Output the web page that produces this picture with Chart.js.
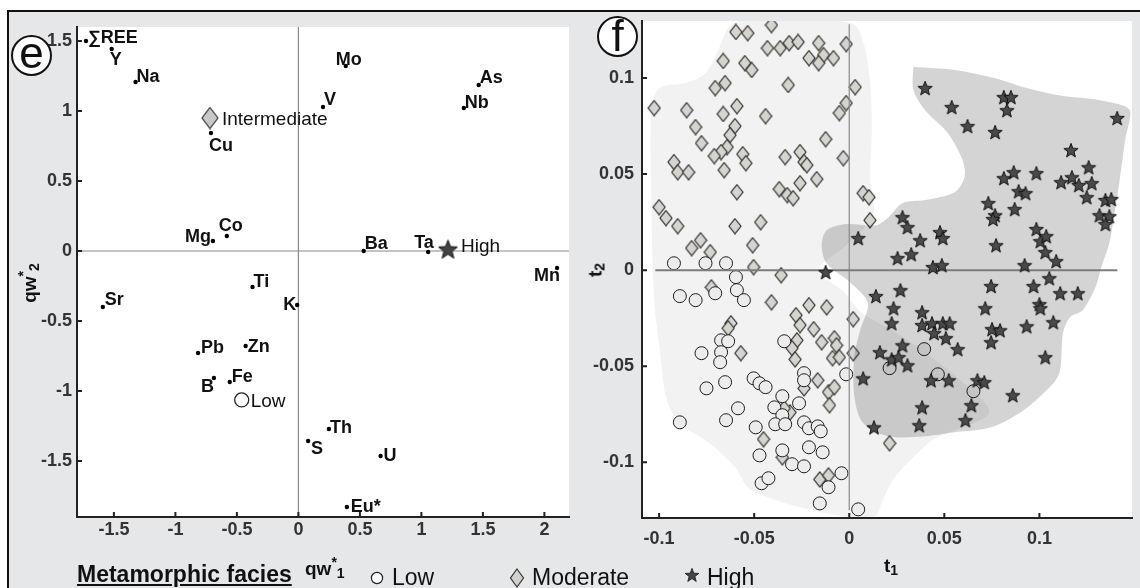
<!DOCTYPE html>
<html>
<head>
<meta charset="utf-8">
<script src="https://cdn.jsdelivr.net/npm/chart.js@4.4.1/dist/chart.umd.min.js"></script>
<style>
  html, body { margin: 0; padding: 0; background: #fff; }
  body { width: 1140px; height: 588px; position: relative; overflow: hidden; font-family: "Liberation Sans", Arial, sans-serif; }
  #frame { position: absolute; left: 7px; top: 10px; right: 0; bottom: 0; background: #e6e7e9; border-top: 2px solid #111; border-left: 2px solid #111; }
  canvas { position: absolute; top: 0; }
  .abs { position: absolute; white-space: nowrap; line-height: 1; color: #111; }
  .axt { font-weight: bold; font-size: 19px; }
  .sup { font-size: 14px; position: relative; top: -8px; }
  .sub { font-size: 14px; position: relative; top: 3px; }
  .rot { transform: translate(-50%, -50%) rotate(-90deg); }
  .panel { position: absolute; width: 37px; height: 37px; border: 2px solid #111; border-radius: 50%; background: #fff;
           display: flex; align-items: center; justify-content: center; font-size: 44px; line-height: 1; color: #111; }
  .leg { font-size: 23px; }
</style>
</head>
<body>
<div id="frame"></div>
<canvas id="chartE" width="580" height="588" style="left:0"></canvas>
<canvas id="chartF" width="560" height="588" style="left:580px"></canvas>

<div class="panel" style="left:11px; top:35px;"><span style="position:relative; top:-3px">e</span></div>
<div class="panel" style="left:597px; top:16px;"><span style="position:relative; top:-1px">f</span></div>

<div class="abs axt" style="left:305px; top:559px;">qw<span class="sup">*</span><span class="sub">1</span></div>
<div class="abs axt rot" style="left:29px; top:283px;">qw<span class="sup">*</span><span class="sub">2</span></div>
<div class="abs axt" style="left:884px; top:556px;">t<span class="sub">1</span></div>
<div class="abs axt rot" style="left:595px; top:270px;">t<span class="sub">2</span></div>

<div class="abs leg" style="left:77px; top:563px; font-weight:bold; text-decoration:underline;">Metamorphic facies</div>
<svg class="abs" style="left:370px; top:571px;" width="14" height="14"><circle cx="7" cy="7" r="5.6" fill="#fff" stroke="#222" stroke-width="1.2"/></svg>
<div class="abs leg" style="left:392px; top:566px;">Low</div>
<svg class="abs" style="left:509px; top:568px;" width="16" height="20"><polygon points="8,1 14.5,10 8,19 1.5,10" fill="#d2d1cd" stroke="#333" stroke-width="1.2"/></svg>
<div class="abs leg" style="left:532px; top:566px;">Moderate</div>
<svg class="abs" style="left:684px; top:567px;" width="16" height="16"><polygon id="legStar" fill="#444" stroke="#111" stroke-width="0.8"/></svg>
<div class="abs leg" style="left:707px; top:566px;">High</div>

<script>
// ---- panel e : loadings ----
var elemNames = ['\u2211REE', 'Y', 'Na', 'Mo', 'V', 'As', 'Nb', 'Cu', 'Mg', 'Co', 'Ba', 'Ta', 'Mn',
                 'Ti', 'Sr', 'K', 'Pb', 'Zn', 'B', 'Fe', 'Th', 'S', 'U', 'Eu*'];
var elemX = [-1.727, -1.518, -1.324, 0.385, 0.200, 1.466, 1.345, -0.711, -0.695, -0.582, 0.531, 1.055, 2.103,
             -0.373, -1.590, -0.010, -0.816, -0.429, -0.687, -0.558, 0.248, 0.079, 0.668, 0.394];
var elemY = [1.500, 1.443, 1.207, 1.321, 1.029, 1.186, 1.021, 0.843, 0.071, 0.107, 0.000, -0.007, -0.121,
             -0.257, -0.400, -0.386, -0.729, -0.679, -0.907, -0.936, -1.271, -1.357, -1.464, -1.829];
var faciesNames = ['Intermediate', 'Low', 'High'];
var faciesX = [-0.719, -0.461, 1.216];
var faciesY = [0.950, -1.064, 0.014];
var eXTicks = [-1.5, -1, -0.5, 0, 0.5, 1, 1.5, 2];
var eYTicks = [-1.5, -1, -0.5, 0, 0.5, 1, 1.5];

// ---- panel f : scores [t1, t2] ----
var lowPts = [
  [-0.0922,0.0036],[-0.0756,0.0036],[-0.0648,0.0036],[-0.0596,-0.0036],[-0.0891,-0.0135],[-0.0808,-0.0156],
  [-0.0705,-0.0120],[-0.0591,-0.0104],[-0.0554,-0.0156],[-0.0674,-0.0365],[-0.0637,-0.0370],[-0.0674,-0.0427],
  [-0.0679,-0.0479],[-0.0777,-0.0432],[-0.0653,-0.0583],[-0.0751,-0.0615],[-0.0503,-0.0563],[-0.0472,-0.0589],
  [-0.0440,-0.0609],[-0.0585,-0.0719],[-0.0648,-0.0781],[-0.0891,-0.0792],[-0.0492,-0.0818],[-0.0472,-0.0964],
  [-0.0461,-0.1109],[-0.0425,-0.1083],[-0.0342,-0.0370],[-0.0238,-0.0536],[-0.0238,-0.0573],[-0.0016,-0.0542],
  [-0.0352,-0.0656],[-0.0394,-0.0714],[-0.0352,-0.0755],[-0.0389,-0.0802],[-0.0337,-0.0802],[-0.0264,-0.0693],
  [-0.0238,-0.0792],[-0.0212,-0.0823],[-0.0166,-0.0813],[-0.0150,-0.0839],[-0.0352,-0.0938],[-0.0301,-0.1010],
  [-0.0238,-0.1021],[-0.0212,-0.0922],[-0.0140,-0.0948],[-0.0041,-0.1057],[-0.0109,-0.1130],[-0.0155,-0.1214],
  [0.0047,-0.1245],[0.0394,-0.0411],[0.0212,-0.0510],[0.0466,-0.0542],[0.0653,-0.0630]
];
var modPts = [
  [-0.1026,0.0844],[-0.0855,0.0833],[-0.0808,0.0745],[-0.0777,0.0661],[-0.0922,0.0563],[-0.0902,0.0510],
  [-0.0845,0.0510],[-0.1000,0.0328],[-0.0964,0.0271],[-0.0902,0.0229],[-0.0829,0.0115],[-0.0782,0.0156],
  [-0.0731,0.0094],[-0.0663,0.1089],[-0.0705,0.0948],[-0.0653,0.0974],[-0.0663,0.0813],[-0.0591,0.0854],
  [-0.0601,0.0750],[-0.0627,0.0703],[-0.0642,0.0641],[-0.0674,0.0615],[-0.0710,0.0594],[-0.0658,0.0521],
  [-0.0560,0.0604],[-0.0544,0.0557],[-0.0591,0.0406],[-0.0601,0.0229],[-0.0466,0.0250],[-0.0508,0.0130],
  [-0.0503,0.0016],[-0.0358,-0.0026],[-0.0596,0.1240],[-0.0534,0.1234],[-0.0409,0.1276],[-0.0430,0.1156],
  [-0.0363,0.1156],[-0.0316,0.1182],[-0.0269,0.1188],[-0.0212,0.1104],[-0.0161,0.1182],[-0.0135,0.1120],
  [-0.0161,0.1078],[-0.0083,0.1104],[-0.0016,0.1177],[-0.0549,0.1078],[-0.0513,0.1042],[-0.0321,0.0964],
  [-0.0440,0.0802],[-0.0337,0.0589],[-0.0259,0.0615],[-0.0238,0.0563],[-0.0223,0.0547],[-0.0171,0.0474],
  [-0.0124,0.0682],[-0.0031,0.0583],[-0.0052,0.0818],[-0.0016,0.0870],[0.0031,0.0953],[-0.0368,0.0422],
  [-0.0326,0.0391],[-0.0295,0.0375],[-0.0259,0.0453],[0.0073,0.0401],[0.0104,0.0380],[0.0109,0.0260],
  [-0.0725,-0.0089],[-0.0409,-0.0167],[-0.0622,-0.0276],[-0.0637,-0.0302],[-0.0570,-0.0432],[-0.0280,-0.0234],
  [-0.0212,-0.0182],[-0.0119,-0.0193],[-0.0259,-0.0286],[-0.0187,-0.0307],[-0.0275,-0.0365],[-0.0301,-0.0406],
  [-0.0285,-0.0464],[-0.0145,-0.0375],[-0.0078,-0.0354],[-0.0067,-0.0391],[-0.0088,-0.0458],[-0.0052,-0.0453],
  [0.0021,-0.0255],[0.0021,-0.0432],[-0.0166,-0.0573],[-0.0238,-0.0615],[-0.0109,-0.0635],[-0.0078,-0.0609],
  [-0.0104,-0.0703],[-0.0311,-0.0740],[-0.0342,-0.0719],[-0.0451,-0.0880],[-0.0352,-0.0974],[-0.0155,-0.1089],
  [-0.0109,-0.1068],[0.0212,-0.0901]
];
var highPts = [
  [0.0399,0.0948],[0.0539,0.0849],[0.0622,0.0750],[0.0767,0.0719],[0.0813,0.0901],[0.0850,0.0901],
  [0.0829,0.0833],[0.1409,0.0792],[0.1166,0.0625],[0.1259,0.0536],[0.0865,0.0510],[0.0813,0.0479],
  [0.0984,0.0505],[0.1114,0.0458],[0.1171,0.0484],[0.1207,0.0443],[0.1275,0.0453],[0.1249,0.0380],
  [0.0891,0.0411],[0.0927,0.0401],[0.0731,0.0349],[0.0767,0.0286],[0.0756,0.0266],[0.0870,0.0318],
  [0.1347,0.0365],[0.1378,0.0370],[0.1316,0.0286],[0.1368,0.0281],[0.1347,0.0240],[0.0280,0.0276],
  [0.0306,0.0224],[0.0373,0.0156],[0.0477,0.0198],[0.0492,0.0167],[0.0254,0.0063],[0.0326,0.0083],
  [0.0772,0.0130],[0.0984,0.0214],[0.1005,0.0151],[0.1036,0.0177],[0.1031,0.0094],[0.1088,0.0047],
  [0.0440,0.0016],[0.0487,0.0026],[0.0922,0.0026],[0.0269,-0.0104],[0.0746,-0.0083],[0.0969,-0.0083],
  [0.1052,-0.0042],[0.1109,-0.0120],[0.1202,-0.0120],[0.0140,-0.0135],[0.0047,0.0167],[-0.0124,-0.0010],
  [0.0233,-0.0198],[0.0223,-0.0276],[0.0383,-0.0219],[0.0383,-0.0286],[0.0435,-0.0276],[0.0492,-0.0276],
  [0.0528,-0.0276],[0.0446,-0.0328],[0.0508,-0.0354],[0.0570,-0.0411],[0.0715,-0.0198],[0.0751,-0.0307],
  [0.0793,-0.0313],[0.0746,-0.0375],[0.0933,-0.0292],[0.1073,-0.0271],[0.1000,-0.0177],[0.1005,-0.0198],
  [0.1031,-0.0453],[0.0860,-0.0651],[0.0674,-0.0573],[0.0710,-0.0583],[0.0642,-0.0703],[0.0611,-0.0781],
  [0.0430,-0.0573],[0.0523,-0.0573],[0.0383,-0.0714],[0.0368,-0.0807],[0.0130,-0.0818],[0.0280,-0.0391],
  [0.0161,-0.0427],[0.0223,-0.0464],[0.0259,-0.0453],[0.0306,-0.0495],[0.0073,-0.0563]
];
// outlines of the shaded facies fields, in t1/t2 units
var lowModField = [
  [-0.0585,0.1297],[-0.0275,0.1302],[0.0021,0.1281],[0.0078,0.1172],[0.0109,0.0990],[0.0119,0.0729],
  [0.0109,0.0469],[0.0124,0.0286],[-0.0016,0.0130],[-0.0161,0.0],[-0.0026,-0.0115],[0.0062,-0.0219],
  [0.0269,-0.0339],[0.0554,-0.0547],[0.0736,-0.0740],[0.0503,-0.0854],[0.0435,-0.0885],[0.0321,-0.0990],
  [0.0228,-0.1094],[0.0166,-0.1224],[0.0140,-0.1281],[0.0,-0.1286],[-0.0259,-0.1234],[-0.0430,-0.1182],
  [-0.0534,-0.1130],[-0.0601,-0.1026],[-0.0741,-0.0896],[-0.0896,-0.0797],[-0.0964,-0.0661],[-0.0990,-0.0469],
  [-0.1026,-0.0156],[-0.1041,0.0365],[-0.1041,0.0833],[-0.1000,0.0948],[-0.0860,0.0974],[-0.0756,0.1026],
  [-0.0689,0.1146],[-0.0637,0.1260],[-0.0585,0.1297]
];
var highField = [
  [0.0337,0.1057],[0.0554,0.1042],[0.0762,0.1000],[0.0933,0.0948],[0.1124,0.0906],[0.1316,0.0885],
  [0.1477,0.0833],[0.1451,0.0677],[0.1420,0.0453],[0.1389,0.0260],[0.1368,0.0141],[0.1321,0.0],
  [0.1295,-0.0089],[0.1228,-0.0208],[0.1161,-0.0245],[0.1124,-0.0328],[0.1109,-0.0521],[0.1073,-0.0589],
  [0.0917,-0.0729],[0.0746,-0.0818],[0.0554,-0.0844],[0.0399,-0.0865],[0.0244,-0.0870],[0.0140,-0.0844],
  [0.0062,-0.0781],[0.0026,-0.0651],[0.0026,-0.0453],[0.0057,-0.0313],[0.0098,-0.0172],[0.0010,-0.0068],
  [-0.0119,0.0036],[-0.0145,0.0130],[-0.0119,0.0208],[-0.0016,0.0240],[0.0140,0.0234],[0.0207,0.0276],
  [0.0280,0.0349],[0.0399,0.0365],[0.0554,0.0406],[0.0606,0.0484],[0.0596,0.0573],[0.0518,0.0714],
  [0.0399,0.0833],[0.0337,0.0938],[0.0337,0.1057]
];
var fXTicks = [-0.1, -0.05, 0, 0.05, 0.1];
var fYTicks = [-0.1, -0.05, 0, 0.05, 0.1];

// label placement next to each loading point: [dx, dy, align]
var labelOffsets = [
  [2,-3,'left'], [-2,11,'left'], [1,-5,'left'], [-10,-6,'left'], [1,-7,'left'], [1,-7,'left'], [1,-5,'left'],
  [-2,13,'left'], [-2,-4,'right'], [-8,-10,'left'], [1,-7,'left'], [-14,-9,'left'], [3,8,'right'],
  [1,-5,'left'], [2,-7,'left'], [-1,0,'right'], [3,-5,'left'], [2,1,'left'], [0,9,'right'], [2,-5,'left'],
  [1,-1,'left'], [3,8,'left'], [3,0,'left'], [4,0,'left']
];
var faciesOffsets = [[12,2], [9,2], [13,-2]];

Chart.defaults.font.family = '"Liberation Sans", Arial, sans-serif';

function starImage(outer, fill, stroke) {
  var size = Math.ceil(outer * 2 + 3);
  var c = document.createElement('canvas');
  c.width = size; c.height = size;
  var g = c.getContext('2d');
  var cx = size / 2, cy = size / 2 + outer * 0.1, inner = outer * 0.42;
  g.beginPath();
  for (var k = 0; k < 10; k++) {
    var r = k % 2 ? inner : outer;
    var a = -Math.PI / 2 + k * Math.PI / 5;
    g.lineTo(cx + r * Math.cos(a), cy + r * Math.sin(a));
  }
  g.closePath();
  g.fillStyle = fill; g.fill();
  g.strokeStyle = stroke; g.lineWidth = 1; g.stroke();
  return c;
}
function diamondImage(w, h, fill, stroke) {
  var c = document.createElement('canvas');
  c.width = w + 2; c.height = h + 2;
  var g = c.getContext('2d');
  var cx = c.width / 2, cy = c.height / 2;
  g.beginPath();
  g.moveTo(cx, 1); g.lineTo(c.width - 1, cy); g.lineTo(cx, c.height - 1); g.lineTo(1, cy);
  g.closePath();
  g.fillStyle = fill; g.fill();
  g.strokeStyle = stroke; g.lineWidth = 1.2; g.stroke();
  return c;
}
// legend star
(function () {
  var p = [];
  for (var k = 0; k < 10; k++) {
    var r = k % 2 ? 3 : 7.2;
    var a = -Math.PI / 2 + k * Math.PI / 5;
    p.push((8 + r * Math.cos(a)).toFixed(2) + ',' + (8.6 + r * Math.sin(a)).toFixed(2));
  }
  document.getElementById('legStar').setAttribute('points', p.join(' '));
})();

function toXY(arr) { return arr.map(function (p) { return { x: p[0], y: p[1] }; }); }

var plotBg = {
  id: 'plotBg',
  beforeDraw: function (chart) {
    var a = chart.chartArea, ctx = chart.ctx;
    ctx.save();
    ctx.fillStyle = '#fff';
    ctx.fillRect(a.left, a.top, a.right - a.left, a.bottom - a.top);
    ctx.restore();
  }
};
var inwardTicks = {
  id: 'inwardTicks',
  afterDraw: function (chart) {
    var a = chart.chartArea, ctx = chart.ctx, sx = chart.scales.x, sy = chart.scales.y;
    ctx.save();
    ctx.strokeStyle = '#222';
    ctx.lineWidth = 2;
    ctx.beginPath();
    sx.ticks.forEach(function (t) {
      var p = sx.getPixelForValue(t.value);
      ctx.moveTo(p, a.bottom); ctx.lineTo(p, a.bottom - 5);
    });
    sy.ticks.forEach(function (t) {
      var p = sy.getPixelForValue(t.value);
      ctx.moveTo(a.left, p); ctx.lineTo(a.left + 5, p);
    });
    ctx.stroke();
    ctx.restore();
  }
};
var pointLabels = {
  id: 'pointLabels',
  afterDatasetsDraw: function (chart) {
    var ctx = chart.ctx;
    ctx.save();
    ctx.fillStyle = '#111';
    ctx.textBaseline = 'middle';
    ctx.font = 'bold 18px "Liberation Sans", Arial, sans-serif';
    chart.getDatasetMeta(0).data.forEach(function (pt, i) {
      var o = labelOffsets[i];
      ctx.textAlign = o[2];
      ctx.fillText(elemNames[i], pt.x + o[0], pt.y + o[1]);
    });
    ctx.font = '19px "Liberation Sans", Arial, sans-serif';
    ctx.textAlign = 'left';
    for (var k = 0; k < 3; k++) {
      var pt = chart.getDatasetMeta(k + 1).data[0];
      ctx.fillText(faciesNames[k], pt.x + faciesOffsets[k][0], pt.y + faciesOffsets[k][1]);
    }
    ctx.restore();
  }
};

function axis(min, max, ticks, fit, pad, isX) {
  return {
    type: 'linear', min: min, max: max,
    afterFit: function (s) { if (isX) s.height = fit; else s.width = fit; },
    afterBuildTicks: function (s) { s.ticks = ticks.map(function (v) { return { value: v }; }); },
    grid: { display: false, drawTicks: false },
    border: { display: true, color: '#222', width: 2 },
    ticks: { color: '#333', font: { size: 18, weight: 'bold' }, padding: pad, autoSkip: false, maxRotation: 0,
             callback: function (v) { return String(v); } }
  };
}
var baseOpts = {
  responsive: false, animation: false, events: [],
  plugins: { legend: { display: false }, tooltip: { enabled: false } }
};

new Chart(document.getElementById('chartE'), {
  type: 'scatter',
  data: {
    datasets: [
      { data: elemX.map(function (x, i) { return { x: x, y: elemY[i] }; }),
        pointRadius: 2.2, backgroundColor: '#000', borderWidth: 0, order: 1 },
      { data: [{ x: faciesX[0], y: faciesY[0] }], pointStyle: diamondImage(16, 21, '#c8c8c8', '#333'), pointRadius: 8, order: 2 },
      { data: [{ x: faciesX[1], y: faciesY[1] }], pointStyle: 'circle', pointRadius: 7, backgroundColor: '#fff',
        borderColor: '#222', borderWidth: 1.3, order: 2 },
      { data: [{ x: faciesX[2], y: faciesY[2] }], pointStyle: starImage(10, '#444', '#111'), pointRadius: 10, order: 2 },
      { data: [{ x: -1.8, y: 0 }, { x: 2.2, y: 0 }], showLine: true, pointRadius: 0, borderColor: '#8a8a8a', borderWidth: 1.2, order: 9 },
      { data: [{ x: 0, y: -1.9 }, { x: 0, y: 1.6 }], showLine: true, pointRadius: 0, borderColor: '#8a8a8a', borderWidth: 1.2, order: 9 }
    ]
  },
  options: Object.assign({}, baseOpts, {
    layout: { padding: { top: 27, right: 7, left: 0, bottom: 0 } },
    scales: { x: axis(-1.8, 2.2, eXTicks, 71, 2, true), y: axis(-1.9, 1.6, eYTicks, 77, 5, false) }
  }),
  plugins: [plotBg, inwardTicks, pointLabels]
});

new Chart(document.getElementById('chartF'), {
  type: 'scatter',
  data: {
    datasets: [
      { data: toXY(lowModField), showLine: true, fill: 'shape', tension: 0.3, pointRadius: 0, borderWidth: 0,
        borderColor: 'transparent', backgroundColor: 'rgba(0,0,0,0.05)', order: 10 },
      { data: toXY(modPts), pointStyle: diamondImage(12, 15, '#d6d4cf', '#2b2b2b'), pointRadius: 7, order: 8 },
      { data: toXY(lowPts), pointStyle: 'circle', pointRadius: 6.5, backgroundColor: '#ececec',
        borderColor: '#1e1e1e', borderWidth: 1, order: 7 },
      { data: toXY(highField), showLine: true, fill: 'shape', tension: 0.3, pointRadius: 0, borderWidth: 0,
        borderColor: 'transparent', backgroundColor: 'rgba(0,0,0,0.17)', order: 6 },
      { data: [{ x: -0.102, y: 0 }, { x: 0.141, y: 0 }], showLine: true, pointRadius: 0, borderColor: '#7c7c7c', borderWidth: 2, order: 5 },
      { data: [{ x: 0, y: -0.125 }, { x: 0, y: 0.128 }], showLine: true, pointRadius: 0, borderColor: '#8a8a8a', borderWidth: 1.2, order: 5 },
      { data: toXY(highPts), pointStyle: starImage(7.5, '#4a4a4a', '#111'), pointRadius: 7, order: 1 }
    ]
  },
  options: Object.assign({}, baseOpts, {
    layout: { padding: { top: 21, right: 0, left: 0, bottom: 0 } },
    scales: { x: axis(-0.109, 0.1487, fXTicks, 70, 10, true), y: axis(-0.129, 0.1297, fYTicks, 62, 8, false) }
  }),
  plugins: [plotBg, inwardTicks]
});
</script>
</body>
</html>
